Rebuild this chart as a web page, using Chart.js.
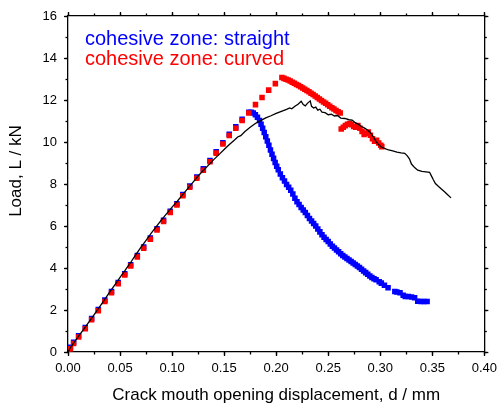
<!DOCTYPE html>
<html>
<head>
<meta charset="utf-8">
<script src="https://cdn.jsdelivr.net/npm/chart.js@4"></script>
<style>
  html, body { margin: 0; padding: 0; background: #fff; }
</style>
</head>
<body>
<canvas id="chart" width="502" height="405"></canvas>
<script>
// experiment (black line)
const expD = [0, 0.002, 0.005, 0.010, 0.015, 0.020, 0.025, 0.030, 0.035, 0.040, 0.045, 0.050, 0.055, 0.060, 0.065, 0.070, 0.075, 0.080, 0.085, 0.090, 0.095, 0.100, 0.105, 0.110, 0.115, 0.120, 0.125, 0.130, 0.135, 0.140, 0.145, 0.150, 0.155, 0.160, 0.163, 0.166, 0.170, 0.175, 0.180, 0.185, 0.190, 0.195, 0.200, 0.205, 0.210, 0.213, 0.215, 0.218, 0.221, 0.224, 0.226, 0.228, 0.230, 0.2327, 0.234, 0.236, 0.238, 0.240, 0.242, 0.244, 0.247, 0.250, 0.253, 0.256, 0.259, 0.262, 0.266, 0.270, 0.273, 0.276, 0.279, 0.282, 0.285, 0.288, 0.291, 0.294, 0.296, 0.298, 0.301, 0.304, 0.308, 0.312, 0.316, 0.320, 0.3235, 0.326, 0.328, 0.330, 0.333, 0.336, 0.340, 0.344, 0.3474, 0.349, 0.351, 0.353, 0.356, 0.359, 0.362, 0.365, 0.368];
const expL = [0, 0.18, 0.40, 0.74, 1.08, 1.42, 1.77, 2.12, 2.48, 2.85, 3.20, 3.55, 3.90, 4.25, 4.62, 4.98, 5.32, 5.66, 5.98, 6.30, 6.60, 6.90, 7.18, 7.48, 7.78, 8.08, 8.38, 8.64, 8.90, 9.16, 9.40, 9.64, 9.88, 10.10, 10.24, 10.30, 10.50, 10.70, 10.88, 11.02, 11.15, 11.25, 11.36, 11.46, 11.55, 11.62, 11.58, 11.70, 11.80, 11.94, 11.78, 11.72, 11.84, 11.96, 11.70, 11.62, 11.66, 11.52, 11.56, 11.42, 11.40, 11.30, 11.32, 11.24, 11.26, 11.14, 11.12, 11.06, 11.04, 10.92, 10.84, 10.74, 10.66, 10.56, 10.42, 10.20, 10.02, 9.90, 9.76, 9.70, 9.62, 9.58, 9.52, 9.48, 9.46, 9.34, 9.20, 8.95, 8.78, 8.66, 8.60, 8.58, 8.56, 8.40, 8.20, 8.02, 7.88, 7.75, 7.62, 7.48, 7.34];

// cohesive zone: straight (blue squares)
const straightD = [0, 0.0023, 0.0054, 0.0102, 0.0166, 0.0227, 0.0291, 0.0354, 0.0418, 0.0482, 0.0545, 0.0602, 0.0666, 0.0727, 0.0791, 0.0855, 0.0918, 0.0982, 0.1046, 0.1103, 0.1170, 0.1237, 0.1300, 0.1364, 0.1424, 0.1488, 0.1549, 0.1612, 0.1673, 0.1737, 0.1760, 0.1780, 0.1800, 0.1820, 0.1840, 0.1855, 0.1870, 0.1885, 0.1900, 0.1915, 0.1930, 0.1945, 0.1960, 0.1975, 0.1990, 0.2005, 0.2020, 0.2040, 0.2060, 0.2080, 0.2100, 0.2120, 0.2140, 0.2160, 0.2180, 0.2200, 0.2220, 0.2240, 0.2260, 0.2280, 0.2300, 0.2320, 0.2340, 0.2360, 0.2380, 0.2400, 0.2420, 0.2440, 0.2460, 0.2480, 0.2500, 0.2520, 0.2540, 0.2560, 0.2580, 0.2600, 0.2620, 0.2640, 0.2660, 0.2680, 0.2700, 0.2720, 0.2740, 0.2760, 0.2780, 0.2800, 0.2820, 0.2840, 0.2860, 0.2880, 0.2900, 0.2920, 0.2940, 0.2960, 0.2990, 0.3010, 0.3040, 0.3075, 0.3140, 0.3160, 0.3190, 0.3220, 0.3240, 0.3270, 0.3300, 0.3330, 0.3360, 0.3390, 0.3420, 0.3450];
const straightL = [0.06, 0.22, 0.46, 0.77, 1.17, 1.60, 2.02, 2.47, 2.88, 3.31, 3.73, 4.16, 4.59, 5.00, 5.43, 5.87, 6.27, 6.70, 7.06, 7.50, 7.90, 8.33, 8.72, 9.12, 9.53, 9.96, 10.37, 10.72, 11.08, 11.42, 11.42, 11.38, 11.30, 11.18, 11.02, 10.85, 10.66, 10.45, 10.25, 10.05, 9.85, 9.62, 9.42, 9.22, 9.02, 8.85, 8.68, 8.48, 8.30, 8.14, 7.98, 7.84, 7.70, 7.52, 7.32, 7.16, 7.02, 6.88, 6.76, 6.64, 6.50, 6.36, 6.24, 6.12, 6.00, 5.86, 5.72, 5.58, 5.46, 5.36, 5.26, 5.14, 5.04, 4.95, 4.86, 4.77, 4.68, 4.60, 4.52, 4.45, 4.38, 4.31, 4.24, 4.17, 4.10, 4.02, 3.94, 3.86, 3.78, 3.70, 3.62, 3.55, 3.49, 3.44, 3.35, 3.28, 3.18, 3.06, 2.88, 2.86, 2.82, 2.70, 2.64, 2.64, 2.62, 2.58, 2.42, 2.40, 2.40, 2.40];

// cohesive zone: curved (red squares)
const curvedD = [0, 0.0023, 0.0054, 0.0102, 0.0166, 0.0227, 0.0291, 0.0354, 0.0418, 0.0482, 0.0545, 0.0602, 0.0666, 0.0727, 0.0791, 0.0855, 0.0918, 0.0982, 0.1046, 0.1103, 0.1170, 0.1237, 0.1300, 0.1364, 0.1424, 0.1488, 0.1549, 0.1612, 0.1673, 0.1737, 0.1801, 0.1864, 0.1928, 0.1992, 0.2055, 0.2075, 0.2095, 0.2115, 0.2135, 0.2155, 0.2175, 0.2195, 0.2215, 0.2235, 0.2255, 0.2275, 0.2295, 0.2315, 0.2335, 0.2355, 0.2375, 0.2395, 0.2415, 0.2435, 0.2455, 0.2475, 0.2495, 0.2515, 0.2535, 0.2555, 0.2575, 0.2595, 0.2615, 0.2625, 0.2645, 0.2665, 0.2685, 0.2705, 0.2725, 0.2745, 0.2765, 0.2785, 0.2805, 0.2825, 0.2845, 0.2865, 0.2885, 0.2905, 0.2925, 0.2945, 0.2965, 0.2985, 0.3005, 0.3015];
const curvedL = [0, 0.16, 0.40, 0.71, 1.11, 1.54, 1.96, 2.41, 2.82, 3.25, 3.67, 4.10, 4.53, 4.94, 5.37, 5.81, 6.21, 6.64, 7.00, 7.44, 7.84, 8.27, 8.66, 9.06, 9.47, 9.90, 10.31, 10.66, 11.02, 11.38, 11.78, 12.12, 12.47, 12.78, 13.07, 13.03, 12.99, 12.95, 12.90, 12.85, 12.80, 12.74, 12.69, 12.63, 12.57, 12.51, 12.45, 12.39, 12.32, 12.26, 12.19, 12.12, 12.05, 11.98, 11.91, 11.84, 11.77, 11.70, 11.63, 11.57, 11.50, 11.44, 11.38, 10.62, 10.70, 10.78, 10.84, 10.88, 10.82, 10.74, 10.70, 10.78, 10.66, 10.50, 10.36, 10.42, 10.48, 10.32, 10.16, 10.04, 10.08, 9.95, 9.84, 9.78];

const xTickLabels = ["0.00", "0.05", "0.10", "0.15", "0.20", "0.25", "0.30", "0.35", "0.40"];
const yTickLabels = ["0", "2", "4", "6", "8", "10", "12", "14", "16"];

const pts = (xs, ys) => xs.map((x, i) => ({ x: x, y: ys[i] }));

Chart.defaults.font.family = "'Liberation Sans', Arial, sans-serif";
Chart.defaults.color = "#000";

// fixed box sizes round the plot
const fix = (size) => (scale) => {
  if (scale.isHorizontal()) scale.height = size;
  else scale.width = size;
};

const majorGrid = { display: true, drawOnChartArea: false, drawTicks: true, tickLength: 4, tickWidth: 1.3, tickColor: "#000" };
const minorGrid = { display: true, drawOnChartArea: false, drawTicks: true, tickLength: 2.5, tickWidth: 1.3, tickColor: "#000" };
const axisBorder = { display: true, color: "#000", width: 1.3 };
const noGrid = { display: false, drawOnChartArea: false, drawTicks: false };

new Chart(document.getElementById("chart"), {
  type: "scatter",
  data: {
    datasets: [
      {
        label: "cohesive zone: straight",
        data: pts(straightD, straightL),
        xAxisID: "x",
        yAxisID: "y",
        backgroundColor: "#0000ff",
        borderWidth: 0,
        pointStyle: "rect",
        pointRadius: 3.9,
        order: 2,
      },
      {
        label: "cohesive zone: curved",
        data: pts(curvedD, curvedL),
        xAxisID: "x",
        yAxisID: "y",
        backgroundColor: "#ff0000",
        borderWidth: 0,
        pointStyle: "rect",
        pointRadius: 3.9,
        order: 1,
      },
      {
        label: "",
        data: pts(expD, expL),
        xAxisID: "x",
        yAxisID: "y",
        showLine: true,
        borderColor: "#000",
        borderWidth: 1.3,
        pointRadius: 0,
        tension: 0,
        order: 0,
      },
    ],
  },
  options: {
    responsive: false,
    animation: false,
    layout: { padding: 0 },
    plugins: {
      tooltip: { enabled: false },
      legend: {
        position: "chartArea",
        align: "start",
        title: { display: true, text: "", padding: { top: 17, bottom: 0 }, font: { size: 10 } },
        labels: {
          boxWidth: 7,
          padding: 0,
          font: { size: 20 },
          sort: (a, b) => a.datasetIndex - b.datasetIndex,
          generateLabels: (chart) =>
            chart.data.datasets
              .map((ds, i) => ({
                text: ds.label,
                fontColor: ds.backgroundColor,
                fillStyle: "transparent",
                strokeStyle: "transparent",
                lineWidth: 0,
                hidden: false,
                datasetIndex: i,
              }))
              .filter((it) => it.text),
        },
      },
    },
    scales: {
      x: {
        type: "linear",
        position: "bottom",
        min: 0,
        max: 0.4,
        weight: 0,
        afterFit: fix(53),
        grid: majorGrid,
        border: axisBorder,
        ticks: {
          stepSize: 0.05,
          padding: 5,
          font: { size: 13 },
          maxRotation: 0,
          autoSkip: false,
          callback: (v, i) => xTickLabels[i],
        },
        title: {
          display: true,
          text: "Crack mouth opening displacement, d / mm",
          font: { size: 17 },
          padding: { top: 0, bottom: -1 },
        },
      },
      xMinor: {
        type: "linear",
        position: "bottom",
        min: 0,
        max: 0.4,
        weight: -1,
        afterFit: fix(0),
        grid: minorGrid,
        border: { display: false },
        ticks: { display: false, stepSize: 0.025, autoSkip: false },
      },
      xTop: {
        type: "linear",
        position: "top",
        min: 0,
        max: 0.4,
        weight: 0,
        afterFit: fix(16),
        grid: majorGrid,
        border: axisBorder,
        ticks: { display: false, stepSize: 0.05, autoSkip: false },
      },
      xTopMinor: {
        type: "linear",
        position: "top",
        min: 0,
        max: 0.4,
        weight: -1,
        afterFit: fix(0),
        grid: minorGrid,
        border: { display: false },
        ticks: { display: false, stepSize: 0.025, autoSkip: false },
      },
      y: {
        type: "linear",
        position: "left",
        min: 0,
        max: 16,
        weight: 0,
        afterFit: fix(42),
        grid: majorGrid,
        border: axisBorder,
        ticks: {
          stepSize: 2,
          padding: 7,
          font: { size: 13 },
          autoSkip: false,
          callback: (v, i) => yTickLabels[i],
        },
      },
      yMinor: {
        type: "linear",
        position: "left",
        min: 0,
        max: 16,
        weight: -1,
        afterFit: fix(0),
        grid: minorGrid,
        border: { display: false },
        ticks: { display: false, stepSize: 1, autoSkip: false },
      },
      // outer left column, split in two so the title sits a bit above centre
      yTitleRest: {
        type: "linear",
        position: "left",
        min: 0,
        max: 16,
        weight: 2,
        stack: "title",
        stackWeight: 26,
        afterFit: fix(26),
        grid: noGrid,
        border: { display: false },
        ticks: { display: false },
      },
      yTitle: {
        type: "linear",
        position: "left",
        min: 0,
        max: 16,
        weight: 2,
        stack: "title",
        stackWeight: 310,
        afterFit: fix(26),
        grid: noGrid,
        border: { display: false },
        ticks: { display: false },
        title: {
          display: true,
          text: "Load, L / kN",
          font: { size: 17 },
          padding: { top: 6, bottom: 0 },
        },
      },
      yRight: {
        type: "linear",
        position: "right",
        min: 0,
        max: 16,
        weight: 0,
        afterFit: fix(16),
        grid: majorGrid,
        border: axisBorder,
        ticks: { display: false, stepSize: 2, autoSkip: false },
      },
      yRightMinor: {
        type: "linear",
        position: "right",
        min: 0,
        max: 16,
        weight: -1,
        afterFit: fix(0),
        grid: minorGrid,
        border: { display: false },
        ticks: { display: false, stepSize: 1, autoSkip: false },
      },
    },
  },
});
</script>
</body>
</html>
